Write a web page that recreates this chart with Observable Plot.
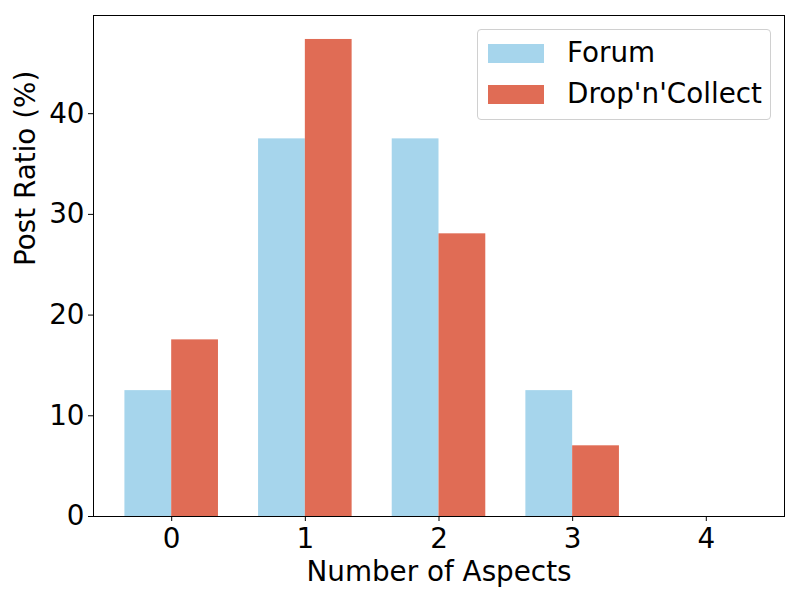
<!DOCTYPE html>
<html>
<head>
<meta charset="utf-8">
<script src="https://cdn.jsdelivr.net/npm/d3@7"></script>
<script src="https://cdn.jsdelivr.net/npm/@observablehq/plot@0.6"></script>
<style>
  body { margin: 0; background: #fff; }
  #wrap { position: relative; width: 800px; height: 600px; font-family: "DejaVu Sans", sans-serif; }
  .legend { position: absolute; left: 477px; top: 29px; width: 294px; height: 91px; border: 1px solid #d0d0d0; border-radius: 4px; background: rgba(255,255,255,0.8); box-sizing: border-box; }
  .item { position: absolute; left: 10px; display: flex; align-items: center; font-size: 27.8px; line-height: 32px; color: #000; }
  .sw { width: 56px; height: 19px; margin-right: 23px; }
</style>
</head>
<body>
<div id="wrap"></div>
<script>
const categories = [0, 1, 2, 3, 4];
const seriesNames = ["Forum", "Drop'n'Collect"];
const forum = [12.5, 37.5, 37.5, 12.5, 0];
const dropNCollect = [17.54, 47.37, 28.07, 7.02, 0];
const colors = ["#a6d5ec", "#e06c55"];
const barWidth = 0.35;

const rows = [];
categories.forEach((c, i) => {
  rows.push({cat: c, series: seriesNames[0], value: forum[i], x1: c - barWidth, x2: c});
  rows.push({cat: c, series: seriesNames[1], value: dropNCollect[i], x1: c, x2: c + barWidth});
});

const chart = Plot.plot({
  width: 800,
  height: 600,
  marginLeft: 93,
  marginRight: 16,
  marginTop: 15,
  marginBottom: 84,
  style: {fontFamily: "DejaVu Sans, sans-serif", fontSize: "27.8px", color: "#000", background: "#fff"},
  x: {domain: [-0.585, 4.585], label: null},
  y: {domain: [0, 49.75], label: null},
  color: {domain: seriesNames, range: colors},
  marks: [
    Plot.rectY(rows, {x1: "x1", x2: "x2", y1: 0, y2: "value", fill: "series"}),
    Plot.frame({stroke: "#000", strokeWidth: 1}),
    Plot.axisX({ticks: categories, tickFormat: d => String(d), label: null, fontSize: 27.8, tickSize: 5, tickPadding: 7}),
    Plot.axisY({ticks: [0, 10, 20, 30, 40], label: null, fontSize: 27.8, tickSize: 5, tickPadding: 4}),
    Plot.text(["Number of Aspects"], {frameAnchor: "bottom", dy: 64, fontSize: 27.8, fill: "#000"}),
    Plot.text(["Post Ratio (%)"], {frameAnchor: "left", dx: -67, rotate: -90, fontSize: 27.8, fill: "#000"})
  ]
});
document.getElementById("wrap").appendChild(chart);

const leg = document.createElement("div");
leg.className = "legend";
seriesNames.forEach((n, i) => {
  const it = document.createElement("div");
  it.className = "item";
  it.style.top = (i === 0 ? 7 : 48) + "px";
  const sw = document.createElement("div");
  sw.className = "sw";
  sw.style.background = colors[i];
  const t = document.createElement("span");
  t.textContent = n;
  it.appendChild(sw);
  it.appendChild(t);
  leg.appendChild(it);
});
document.getElementById("wrap").appendChild(leg);
</script>
</body>
</html>
